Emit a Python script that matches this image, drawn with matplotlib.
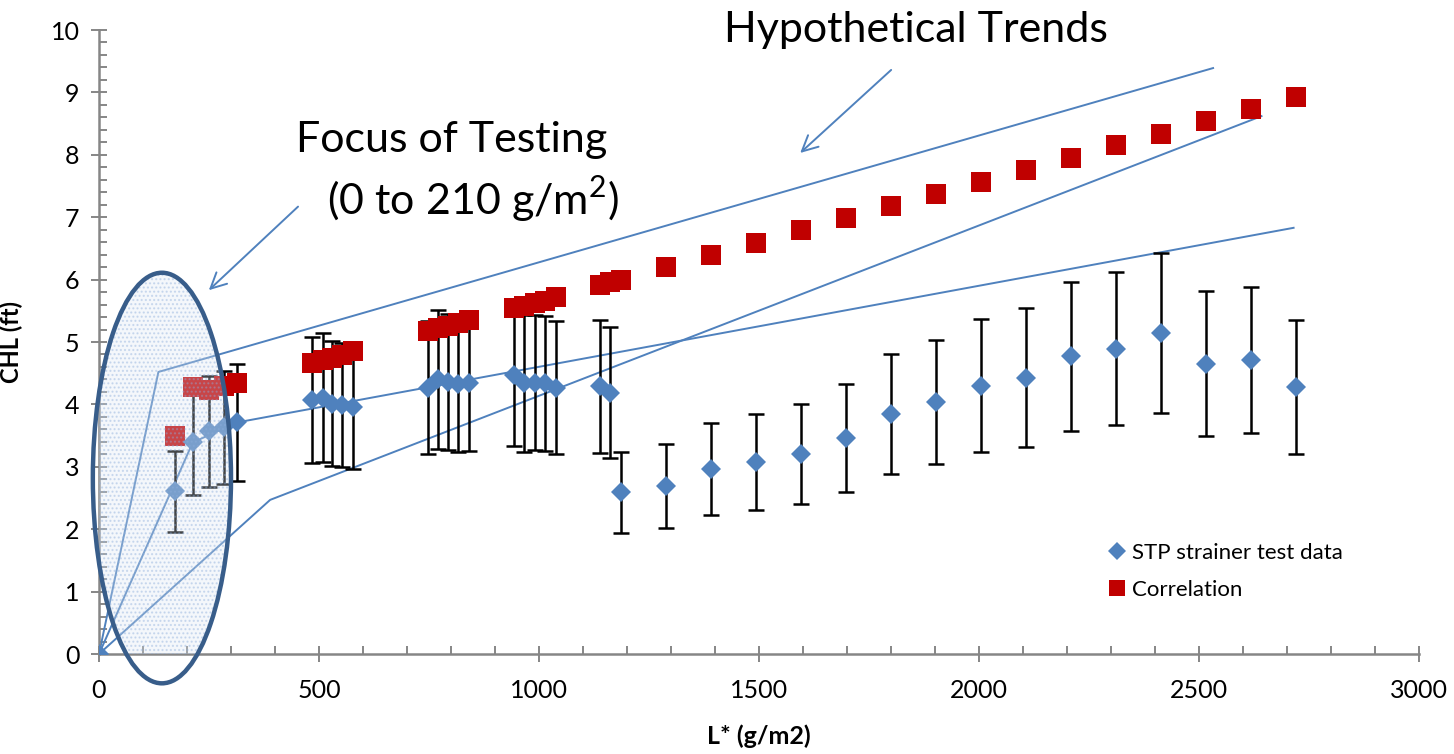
import numpy as np
import matplotlib
matplotlib.use("Agg")
import matplotlib.pyplot as plt
from matplotlib.patches import Ellipse
from matplotlib.ticker import MultipleLocator

plt.rcParams['font.family'] = ['Lato', 'DejaVu Sans']
plt.rcParams['mathtext.fontset'] = 'custom'
plt.rcParams['mathtext.rm'] = 'Lato'

# STP strainer test data (x, y, error)
stp_x = [0, 173, 213, 250, 284, 313,
         483, 508, 530, 553, 577,
         747, 770, 793, 817, 840,
         943, 966, 990, 1014, 1038,
         1139, 1162, 1186, 1288, 1390, 1493, 1595, 1697, 1799, 1902,
         2004, 2106, 2208, 2311, 2414, 2516, 2618, 2720]
stp_y = [0, 2.61, 3.39, 3.57, 3.63, 3.71,
         4.07, 4.11, 4.01, 3.99, 3.96,
         4.27, 4.40, 4.36, 4.32, 4.34,
         4.47, 4.34, 4.35, 4.34, 4.27,
         4.29, 4.19, 2.59, 2.69, 2.96, 3.08, 3.21, 3.46, 3.85, 4.04,
         4.30, 4.43, 4.77, 4.89, 5.14, 4.65, 4.71, 4.28]
stp_err = [0, 0.65, 0.84, 0.89, 0.90, 0.93,
           1.01, 1.03, 1.00, 1.00, 1.00,
           1.07, 1.11, 1.09, 1.08, 1.09,
           1.13, 1.10, 1.08, 1.08, 1.07,
           1.07, 1.05, 0.645, 0.67, 0.74, 0.77, 0.80, 0.865, 0.96, 1.00,
           1.07, 1.11, 1.195, 1.225, 1.285, 1.16, 1.175, 1.07]

# correlation
corr_x = stp_x[1:]
corr_y = [3.49, 4.28, 4.23, 4.29, 4.34,
          4.67, 4.71, 4.75, 4.79, 4.85,
          5.18, 5.22, 5.26, 5.30, 5.35,
          5.54, 5.58, 5.62, 5.66, 5.72,
          5.91, 5.96, 6.00, 6.20, 6.39, 6.59, 6.79, 6.99, 7.18, 7.37,
          7.56, 7.76, 7.95, 8.15, 8.34, 8.54, 8.73, 8.93]

# hypothetical trend lines
trend_hi_x = [0, 135, 2532]
trend_hi_y = [0, 4.52, 9.39]
trend_mid_x = [0, 213, 313, 2715]
trend_mid_y = [0, 3.39, 3.71, 6.83]
trend_lo_x = [0, 389, 2642]
trend_lo_y = [0, 2.47, 8.62]

blue = '#4F81BD'
red = '#C00000'
grey = '#868686'

fig = plt.figure(figsize=(14.54, 7.54), dpi=100)
ax = fig.add_axes([99/1454, 100/754, 1320/1454, 624/754])

for tx, ty in [(trend_hi_x, trend_hi_y), (trend_mid_x, trend_mid_y), (trend_lo_x, trend_lo_y)]:
    ax.plot(tx, ty, color=blue, lw=1.4, zorder=2)

ax.errorbar(stp_x, stp_y, yerr=stp_err, fmt='none', ecolor='black',
            elinewidth=1.8, capsize=6, capthick=1.8, zorder=3)
ax.plot(corr_x, corr_y, 's', color=red, ms=14, mec=red, mew=0,
        label='Correlation', zorder=4)
ax.plot(stp_x, stp_y, 'D', color=blue, ms=10.5, mew=0,
        label='STP strainer test data', zorder=5)

# focus ellipse
ax.add_patch(Ellipse((143, 2.82), 314, 6.58, facecolor='#DCE6F2', alpha=0.3,
                     edgecolor='none', zorder=6))
ax.add_patch(Ellipse((143, 2.82), 314, 6.58, facecolor='none', hatch='....',
                     edgecolor=(0.55, 0.68, 0.86, 0.4), lw=0, zorder=6))
ax.add_patch(Ellipse((143, 2.82), 314, 6.58, facecolor='none',
                     edgecolor='#385D8A', lw=3.2, zorder=7, clip_on=False))

ax.set_xlim(0, 3000)
ax.set_ylim(0, 10)
ax.xaxis.set_major_locator(MultipleLocator(500))
ax.xaxis.set_minor_locator(MultipleLocator(100))
ax.yaxis.set_major_locator(MultipleLocator(1))
ax.yaxis.set_minor_locator(MultipleLocator(0.2))
for s in ['top', 'right']:
    ax.spines[s].set_visible(False)
for s in ['left', 'bottom']:
    ax.spines[s].set_color(grey)
    ax.spines[s].set_linewidth(1.8)
ax.tick_params(which='major', direction='inout', length=12, width=1.4,
               color=grey, labelsize=18, pad=8)
ax.tick_params(which='minor', direction='in', length=6, width=1.4, color=grey)
ax.tick_params(axis='x', which='major', pad=12)

ax.set_xlabel('L* (g/m2)', fontsize=18, fontweight='bold', labelpad=16)
ax.set_ylabel('CHL (ft)', fontsize=17, fontweight='bold', labelpad=20)

handles, labels = ax.get_legend_handles_labels()
ax.legend(handles[::-1], labels[::-1], loc='upper left', frameon=False,
          fontsize=16, bbox_to_anchor=(0.747, 0.21), handletextpad=0.1,
          handlelength=1.1, labelspacing=0.75, markerscale=0.85)

# annotations
ax.text(1857, 10.0, 'Hypothetical Trends', fontsize=31, ha='center',
        va='center', clip_on=False)
ax.annotate('', xy=(1589, 8.0), xytext=(1805, 9.39),
            arrowprops=dict(arrowstyle='->', color=blue, lw=1.4,
                            mutation_scale=28))
ax.text(802, 8.24, 'Focus of Testing', fontsize=31, ha='center', va='center')
ax.text(850, 7.28, '(0 to 210 g/m$^{2}$)', fontsize=31, ha='center', va='center')
ax.annotate('', xy=(245, 5.80), xytext=(457, 7.20),
            arrowprops=dict(arrowstyle='->', color=blue, lw=1.4,
                            mutation_scale=28))

fig.savefig('out.png', dpi=100)
